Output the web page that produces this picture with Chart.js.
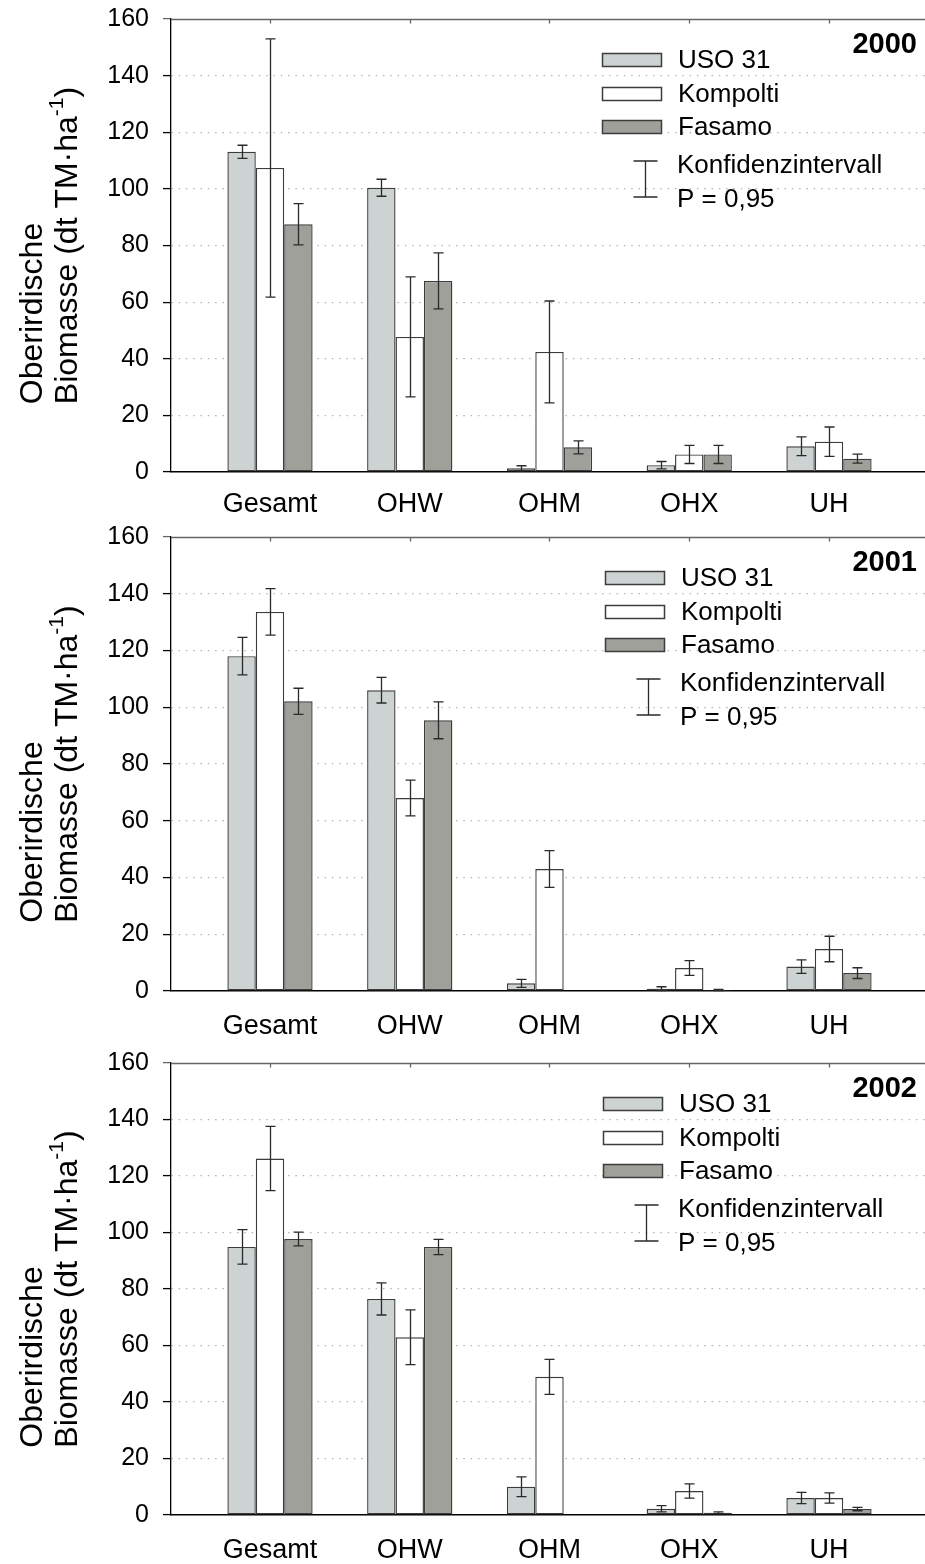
<!DOCTYPE html>
<html><head><meta charset="utf-8">
<script src="https://cdn.jsdelivr.net/npm/chart.js@4.4.0/dist/chart.umd.min.js"></script>
<style>
html,body{margin:0;padding:0;background:#fff;}
#wrap{position:relative;width:925px;height:1564px;overflow:hidden;}
canvas{position:absolute;left:0;}
</style></head><body>
<div id="wrap">
<canvas id="c2000" width="925" height="520" style="top:0px"></canvas>
<canvas id="c2001" width="925" height="520" style="top:520px"></canvas>
<canvas id="c2002" width="925" height="524" style="top:1040px"></canvas>
</div>
<script>
// ---------- data ----------
const categories = ['Gesamt', 'OHW', 'OHM', 'OHX', 'UH'];
const seriesNames = ['USO 31', 'Kompolti', 'Fasamo'];
const yTicks = [0, 20, 40, 60, 80, 100, 120, 140, 160];
const years = ['2000', '2001', '2002'];

const uso2000 = [113.1, 100.4, 1.3, 2.4, 9.1];
const uso2000Err = [2.3, 3.0, 0.9, 1.3, 3.3];
const kompolti2000 = [107.4, 47.7, 42.4, 6.2, 10.7];
const kompolti2000Err = [45.6, 21.2, 18.0, 3.2, 5.2];
const fasamo2000 = [87.5, 67.5, 8.7, 6.2, 4.7];
const fasamo2000Err = [7.3, 9.9, 2.3, 3.2, 1.6];

const uso2001 = [118.0, 106.0, 2.7, 0.8, 8.6];
const uso2001Err = [6.6, 4.5, 1.4, 0.7, 2.4];
const kompolti2001 = [133.6, 68.0, 43.0, 8.1, 14.8];
const kompolti2001Err = [8.2, 6.3, 6.5, 2.6, 4.5];
const fasamo2001 = [102.1, 95.4, 0, 0.35, 6.3];
const fasamo2001Err = [4.6, 6.5, 0, 0.2, 1.9];

const uso2002 = [94.9, 76.5, 10.0, 2.2, 6.0];
const uso2002Err = [6.1, 5.7, 3.5, 1.1, 2.0];
const kompolti2002 = [126.2, 62.9, 48.9, 8.5, 6.0];
const kompolti2002Err = [11.4, 9.7, 6.2, 2.5, 1.8];
const fasamo2002 = [97.7, 94.9, 0, 0.8, 2.1];
const fasamo2002Err = [2.4, 2.7, 0, 0.3, 0.6];

// ---------- styles ----------
const FONT = '"Liberation Sans", Arial, Helvetica, sans-serif';
const fillColors = ['#cdd3d2', '#ffffff', '#a0a09a'];
const edgeColor = '#3c3c3c';
const errColor = '#2a2a2a';

const panels = [
  { id: 'c2000', year: years[0], values: [uso2000, kompolti2000, fasamo2000], errs: [uso2000Err, kompolti2000Err, fasamo2000Err], top: 19, xh: 48, legendX: 602, labelPad: 16 },
  { id: 'c2001', year: years[1], values: [uso2001, kompolti2001, fasamo2001], errs: [uso2001Err, kompolti2001Err, fasamo2001Err], top: 17, xh: 49, legendX: 605, labelPad: 19 },
  { id: 'c2002', year: years[2], values: [uso2002, kompolti2002, fasamo2002], errs: [uso2002Err, kompolti2002Err, fasamo2002Err], top: 23, xh: 49, legendX: 603, labelPad: 19 }
];

// ---------- plugins ----------
const errorBarPlugin = {
  id: 'errorBars',
  afterDatasetsDraw(chart) {
    const ctx = chart.ctx;
    const ys = chart.scales.y;
    ctx.save();
    ctx.strokeStyle = errColor;
    ctx.lineWidth = 1.3;
    chart.data.datasets.forEach((ds, d) => {
      const meta = chart.getDatasetMeta(d);
      meta.data.forEach((bar, i) => {
        const v = ds.data[i].y, e = ds.errors[i];
        if (!e || e <= 0) return;
        const x = Math.round(bar.x) + 0.5;
        const yHi = ys.getPixelForValue(v + e);
        const yLo = ys.getPixelForValue(Math.max(0, v - e));
        const cap = 5;
        ctx.beginPath();
        ctx.moveTo(x, yHi); ctx.lineTo(x, yLo);
        ctx.moveTo(x - cap, yHi); ctx.lineTo(x + cap, yHi);
        ctx.moveTo(x - cap, yLo); ctx.lineTo(x + cap, yLo);
        ctx.stroke();
      });
    });
    ctx.restore();
  }
};

const frameLegendPlugin = {
  id: 'frameLegend',
  afterDraw(chart, args, opts) {
    const ctx = chart.ctx;
    const a = chart.chartArea;
    const xs = chart.scales.x, ys = chart.scales.y;
    ctx.save();
    // top frame line
    const yTop = Math.round(ys.getPixelForValue(160)) + 0.5;
    ctx.strokeStyle = '#666';
    ctx.lineWidth = 1.3;
    ctx.beginPath();
    ctx.moveTo(a.left, yTop); ctx.lineTo(a.right, yTop);
    categories.forEach((c, i) => {
      const px = Math.round(xs.getPixelForValue(i + 1)) + 0.5;
      ctx.moveTo(px, yTop); ctx.lineTo(px, yTop + 4);
    });
    ctx.stroke();

    // year label
    const T = a.top;
    ctx.fillStyle = '#000';
    ctx.font = 'bold 29px ' + FONT;
    ctx.textAlign = 'right';
    ctx.textBaseline = 'middle';
    ctx.fillText(opts.year, 917, T + 26);

    // legend
    const lx = opts.legendX;
    const rows = [41, 75, 108];
    ctx.font = '26px ' + FONT;
    ctx.textAlign = 'left';
    chart.data.datasets.forEach((ds, d) => {
      const cy = T + rows[d];
      ctx.fillStyle = ds.backgroundColor;
      ctx.fillRect(lx, cy - 7, 60, 14);
      ctx.strokeStyle = edgeColor;
      ctx.lineWidth = 1.5;
      ctx.strokeRect(lx + 0.5, cy - 6.5, 59, 13);
      ctx.fillStyle = '#000';
      ctx.fillText(ds.label, lx + 76, cy + 1);
    });
    // confidence interval symbol
    const ex = lx + 43.5;
    ctx.strokeStyle = errColor;
    ctx.lineWidth = 1.3;
    ctx.beginPath();
    ctx.moveTo(ex, T + 142); ctx.lineTo(ex, T + 178);
    ctx.moveTo(ex - 12, T + 142); ctx.lineTo(ex + 12, T + 142);
    ctx.moveTo(ex - 12, T + 178); ctx.lineTo(ex + 12, T + 178);
    ctx.stroke();
    ctx.fillStyle = '#000';
    ctx.fillText('Konfidenzintervall', lx + 75, T + 147);
    ctx.fillText('P = 0,95', lx + 75, T + 181);

    // y axis title (two lines, left aligned, block centred)
    const cyMid = (a.top + a.bottom) / 2;
    const mainFont = '32px ' + FONT, supFont = '21px ' + FONT;
    const p1 = 'Biomasse (dt TM·ha', sup = '-1', p2 = ')';
    ctx.font = mainFont;
    const w1 = ctx.measureText(p1).width;
    const w3 = ctx.measureText(p2).width;
    ctx.font = supFont;
    const w2 = ctx.measureText(sup).width;
    const start = cyMid + (w1 + w2 + w3) / 2;
    ctx.textAlign = 'left';
    ctx.textBaseline = 'alphabetic';
    ctx.save();
    ctx.translate(42, start);
    ctx.rotate(-Math.PI / 2);
    ctx.font = mainFont;
    ctx.fillText('Oberirdische', 0, 0);
    ctx.restore();
    ctx.save();
    ctx.translate(77, start);
    ctx.rotate(-Math.PI / 2);
    ctx.font = mainFont;
    ctx.fillText(p1, 0, 0);
    ctx.font = supFont;
    ctx.fillText(sup, w1, -14);
    ctx.font = mainFont;
    ctx.fillText(p2, w1 + w2, 0);
    ctx.restore();
    ctx.restore();
  }
};

// ---------- charts ----------
panels.forEach(p => {
  const datasets = seriesNames.map((name, s) => ({
    label: name,
    data: categories.map((c, i) => ({ x: i + 1, y: p.values[s][i] })),
    errors: p.errs[s],
    backgroundColor: fillColors[s],
    borderColor: edgeColor,
    borderWidth: 1.4,
    borderSkipped: false,
    categoryPercentage: 0.61,
    barPercentage: 1.0
  }));
  new Chart(document.getElementById(p.id), {
    type: 'bar',
    data: { datasets },
    options: {
      responsive: false,
      animation: false,
      devicePixelRatio: 1,
      layout: { padding: { top: p.top, left: 0, right: 0, bottom: 0 } },
      plugins: {
        legend: { display: false },
        tooltip: { enabled: false },
        title: { display: false },
        frameLegend: { year: p.year, legendX: p.legendX }
      },
      scales: {
        x: {
          type: 'linear',
          offset: false,
          min: 0.2916,
          max: 5.687,
          afterBuildTicks: sc => { sc.ticks = categories.map((c, i) => ({ value: i + 1 })); },
          afterFit: sc => { sc.height = p.xh; sc.paddingLeft = 0; sc.paddingRight = 0; },
          ticks: {
            autoSkip: false, maxRotation: 0, minRotation: 0,
            padding: p.labelPad,
            color: '#000',
            font: { family: FONT, size: 27 },
            callback: v => categories[v - 1] || ''
          },
          grid: { display: true, offset: false, drawOnChartArea: false, drawTicks: false, tickLength: 0 },
          border: { display: true, color: '#000', width: 1.5 }
        },
        y: {
          min: 0,
          max: 160,
          afterBuildTicks: sc => { sc.ticks = yTicks.map(v => ({ value: v })); },
          afterFit: sc => { sc.width = 171; sc.paddingTop = 0; sc.paddingBottom = 0; },
          ticks: {
            padding: 14,
            color: '#000',
            font: { family: FONT, size: 25 }
          },
          grid: {
            color: c => (c.tick && (c.tick.value === 0 || c.tick.value === 160)) ? 'rgba(0,0,0,0)' : '#b4b4b4',
            lineWidth: 1.2,
            borderDash: [1.5, 5.8],
            drawTicks: true,
            tickLength: 8,
            tickWidth: 1.3,
            tickColor: c => (c.tick && c.tick.value === 160) ? '#666' : '#000',
            tickBorderDash: []
          },
          border: { display: true, color: '#000', width: 1.3, dash: [1.5, 5.8] }
        }
      }
    },
    plugins: [errorBarPlugin, frameLegendPlugin]
  });
});
</script>
</body></html>
